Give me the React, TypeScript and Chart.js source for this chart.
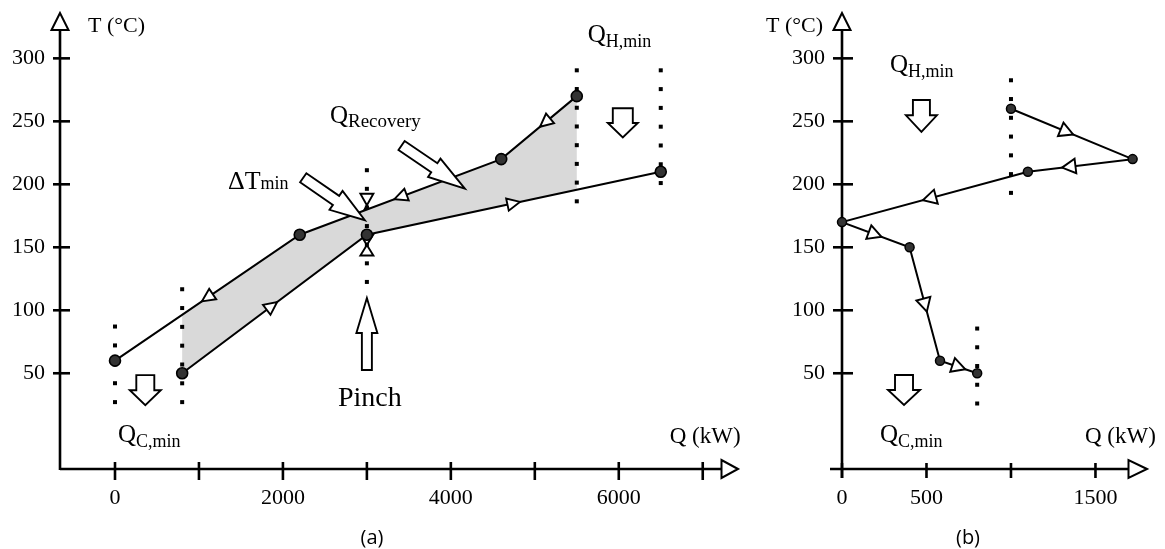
import React, { useEffect, useRef } from "react";
import { Chart, registerables } from "chart.js";

Chart.register(...registerables);

const SERIF = "'Liberation Serif', 'Times New Roman', serif";

// ---------- Panel (a): composite curves ----------
const hotQ = [0, 2200, 4600, 5500];
const hotT = [60, 160, 220, 270];
const coldQ = [800, 3000, 6500];
const coldT = [50, 160, 210];
const xTicksA = [0, 1000, 2000, 3000, 4000, 5000, 6000, 7000];
const xLabelsA = [0, 2000, 4000, 6000];
const yTicks = [50, 100, 150, 200, 250, 300];

// ---------- Panel (b): grand composite curve ----------
const gccQ = [1000, 1720, 1100, 0, 400, 580, 800];
const gccT = [260, 220, 210, 170, 150, 60, 50];
const xTicksB = [0, 500, 1000, 1500];
const xLabelsB = [0, 500, 1500];

// ---------- annotations (data coordinates) ----------
const dotsA = [
  { q: 0, tTop: 87.1, tBot: 27.1 },
  { q: 800, tTop: 116.7, tBot: 27.1 },
  { q: 3000, tTop: 211.2, tBot: 122.5 },
  { q: 5500, tTop: 290.5, tBot: 186.5 },
  { q: 6500, tTop: 290.5, tBot: 201 },
];
const dotsB = [
  { q: 1000, tTop: 282.6, tBot: 193.2 },
  { q: 800, tTop: 85.5, tBot: 26 },
];
const bowtiesA = [
  { q: 3000, t: 183.4, h: 11.5, w: 6.5 },
  { q: 3000, t: 151.8, h: 10.5, w: 6.5 },
];
const flowsA = [
  { s: "hot", seg: 0, f: 0.5, dir: -1 },
  { s: "hot", seg: 1, f: 0.5, dir: -1 },
  { s: "hot", seg: 2, f: 0.58, dir: -1 },
  { s: "cold", seg: 0, f: 0.486, dir: 1 },
  { s: "cold", seg: 1, f: 0.5, dir: 1 },
];
const flowsB = [
  { s: "gcc", seg: 0, f: 0.46, dir: 1 },
  { s: "gcc", seg: 1, f: 0.61, dir: 1 },
  { s: "gcc", seg: 2, f: 0.53, dir: 1 },
  { s: "gcc", seg: 3, f: 0.49, dir: 1 },
  { s: "gcc", seg: 4, f: 0.51, dir: 1 },
  { s: "gcc", seg: 5, f: 0.51, dir: 1 },
];
const arrowsA = [
  { q1: 361, t1: 48.5, q2: 361, t2: 24.6, shaft: 18, head: 31, headLen: 15 },
  { q1: 6048, t1: 260.4, q2: 6048, t2: 237.2, shaft: 20, head: 30, headLen: 14.5 },
  { q1: 3000, t1: 52.6, q2: 3000, t2: 109.7, shaft: 10, head: 21, headLen: 35 },
  { q1: 2242, t1: 205.2, q2: 2976, t2: 171.5, shaft: 11, head: 23, headLen: 35 },
  { q1: 3413, t1: 230.8, q2: 4167, t2: 196.6, shaft: 11, head: 22, headLen: 37 },
];
const arrowsB = [
  { q1: 470, t1: 266.9, q2: 470, t2: 241.7, shaft: 17, head: 31, headLen: 16.5 },
  { q1: 367, t1: 48.6, q2: 367, t2: 24.8, shaft: 18, head: 32, headLen: 15 },
];
const labelsA = [
  { q: -321, t: 321.3, text: "T (°C)", size: 22 },
  { q: 5631, t: 312.8, text: "Q", sub: "H,min", size: 25, subSize: 18, subDy: 5 },
  { q: 2560, t: 248.6, text: "Q", sub: "Recovery", size: 25, subSize: 19, subDy: 4 },
  { q: 1345, t: 196, text: "ΔT", sub: "min", size: 26, subSize: 18, subDy: 0 },
  { q: 2655, t: 23.8, text: "Pinch", size: 28 },
  { q: 36, t: -4.2, text: "Q", sub: "C,min", size: 25, subSize: 18, subDy: 5 },
  { q: 6607, t: -5.4, text: "Q (kW)", size: 23 },
];
const labelsB = [
  { q: -112, t: 321.3, text: "T (°C)", size: 22, align: "right" },
  { q: 284, t: 289.5, text: "Q", sub: "H,min", size: 25, subSize: 18, subDy: 5 },
  { q: 225, t: -4.2, text: "Q", sub: "C,min", size: 25, subSize: 18, subDy: 5 },
  { q: 1438, t: -5.4, text: "Q (kW)", size: 23 },
];

function interp(qs: number[], ts: number[], q: number) {
  for (let i = 0; i < qs.length - 1; i++) {
    if (q >= qs[i] && q <= qs[i + 1]) {
      return ts[i] + ((ts[i + 1] - ts[i]) * (q - qs[i])) / (qs[i + 1] - qs[i]);
    }
  }
  return ts[ts.length - 1];
}

function recoveryPolygon() {
  const lo = coldQ[0];
  const hi = hotQ[hotQ.length - 1];
  const pts: { x: number; y: number }[] = [];
  coldQ.forEach((q, i) => {
    if (q >= lo && q < hi) pts.push({ x: q, y: coldT[i] });
  });
  pts.push({ x: hi, y: interp(coldQ, coldT, hi) });
  pts.push({ x: hi, y: hotT[hotT.length - 1] });
  for (let i = hotQ.length - 1; i >= 0; i--) {
    if (hotQ[i] > lo && hotQ[i] < hi) pts.push({ x: hotQ[i], y: hotT[i] });
  }
  pts.push({ x: lo, y: interp(hotQ, hotT, lo) });
  return pts;
}

const series: Record<string, { q: number[]; t: number[] }> = {
  hot: { q: hotQ, t: hotT },
  cold: { q: coldQ, t: coldT },
  gcc: { q: gccQ, t: gccT },
};

function P(chart: any, q: number, t: number) {
  return { x: chart.scales.x.getPixelForValue(q), y: chart.scales.y.getPixelForValue(t) };
}

function drawTri(ctx: CanvasRenderingContext2D, cx: number, cy: number, ux: number, uy: number, L: number, W: number) {
  const nx = -uy, ny = ux;
  const ax = cx + (ux * L) / 2, ay = cy + (uy * L) / 2;
  const bx = cx - (ux * L) / 2, by = cy - (uy * L) / 2;
  ctx.beginPath();
  ctx.moveTo(ax, ay);
  ctx.lineTo(bx + (nx * W) / 2, by + (ny * W) / 2);
  ctx.lineTo(bx - (nx * W) / 2, by - (ny * W) / 2);
  ctx.closePath();
  ctx.fillStyle = "#fff";
  ctx.fill();
  ctx.lineWidth = 1.9;
  ctx.strokeStyle = "#000";
  ctx.lineJoin = "miter";
  ctx.stroke();
}

function drawBlockArrow(ctx: CanvasRenderingContext2D, p1: any, p2: any, shaft: number, head: number, headLen: number) {
  const dx = p2.x - p1.x, dy = p2.y - p1.y;
  const len = Math.hypot(dx, dy);
  const ux = dx / len, uy = dy / len;
  const nx = -uy, ny = ux;
  const jx = p2.x - ux * headLen, jy = p2.y - uy * headLen;
  const pts = [
    [p1.x + (nx * shaft) / 2, p1.y + (ny * shaft) / 2],
    [jx + (nx * shaft) / 2, jy + (ny * shaft) / 2],
    [jx + (nx * head) / 2, jy + (ny * head) / 2],
    [p2.x, p2.y],
    [jx - (nx * head) / 2, jy - (ny * head) / 2],
    [jx - (nx * shaft) / 2, jy - (ny * shaft) / 2],
    [p1.x - (nx * shaft) / 2, p1.y - (ny * shaft) / 2],
  ];
  ctx.beginPath();
  pts.forEach((p, i) => (i ? ctx.lineTo(p[0], p[1]) : ctx.moveTo(p[0], p[1])));
  ctx.closePath();
  ctx.fillStyle = "#fff";
  ctx.fill();
  ctx.lineWidth = 1.9;
  ctx.strokeStyle = "#000";
  ctx.lineJoin = "miter";
  ctx.stroke();
}

function makeDecor(ann: any) {
  const drawDots = (chart: any) => {
    const ctx = chart.ctx;
    ctx.fillStyle = "#000";
    ann.dots.forEach((d: any) => {
      const x = chart.scales.x.getPixelForValue(d.q);
      const y1 = chart.scales.y.getPixelForValue(d.tTop);
      const y2 = chart.scales.y.getPixelForValue(d.tBot);
      const n = Math.round((y2 - y1) / 19) + 1;
      const step = (y2 - y1) / (n - 1);
      for (let i = 0; i < n; i++) ctx.fillRect(x - 2, y1 + i * step - 2, 4, 4);
    });
  };
  return {
    id: "decor",
    beforeDatasetsDraw(chart: any) {
      const ctx = chart.ctx as CanvasRenderingContext2D;
      const a = chart.chartArea;
      const ys = chart.scales.y, xs = chart.scales.x;
      ctx.save();
      ctx.strokeStyle = "#000";
      ctx.lineWidth = 2.6;
      ctx.lineCap = "butt";
      // y axis
      ctx.beginPath();
      ctx.moveTo(a.left, a.bottom + ann.yBottomExt);
      ctx.lineTo(a.left, a.top + 17);
      ctx.stroke();
      // x axis
      ctx.beginPath();
      ctx.moveTo(a.left - ann.xLeftExt, a.bottom);
      ctx.lineTo(a.right - ann.xHead, a.bottom);
      ctx.stroke();
      // ticks
      yTicks.forEach((v) => {
        const y = ys.getPixelForValue(v);
        ctx.beginPath();
        ctx.moveTo(a.left - ann.yTickOut, y);
        ctx.lineTo(a.left + ann.yTickIn, y);
        ctx.stroke();
      });
      ann.xTicks.forEach((v: number) => {
        const x = xs.getPixelForValue(v);
        ctx.beginPath();
        ctx.moveTo(x, a.bottom - ann.xTickIn);
        ctx.lineTo(x, a.bottom + ann.xTickOut);
        ctx.stroke();
      });
      // arrow heads
      ctx.lineWidth = 2;
      ctx.fillStyle = "#fff";
      ctx.beginPath();
      ctx.moveTo(a.left, a.top);
      ctx.lineTo(a.left - 8.5, a.top + 17);
      ctx.lineTo(a.left + 8.5, a.top + 17);
      ctx.closePath();
      ctx.fill();
      ctx.stroke();
      ctx.beginPath();
      ctx.moveTo(a.right, a.bottom);
      ctx.lineTo(a.right - ann.xHead, a.bottom - 9);
      ctx.lineTo(a.right - ann.xHead, a.bottom + 9);
      ctx.closePath();
      ctx.fill();
      ctx.stroke();
      // bowties
      ann.bowties.forEach((b: any) => {
        const c = P(chart, b.q, b.t);
        ctx.beginPath();
        ctx.moveTo(c.x, c.y);
        ctx.lineTo(c.x - b.w, c.y - b.h);
        ctx.lineTo(c.x + b.w, c.y - b.h);
        ctx.closePath();
        ctx.moveTo(c.x, c.y);
        ctx.lineTo(c.x - b.w, c.y + b.h);
        ctx.lineTo(c.x + b.w, c.y + b.h);
        ctx.closePath();
        ctx.fillStyle = "#fff";
        ctx.fill();
        ctx.lineWidth = 1.9;
        ctx.stroke();
      });
      if (ann.dotsAfterIndex === null) drawDots(chart);
      ctx.restore();
    },
    afterDatasetDraw(chart: any, args: any) {
      if (ann.dotsAfterIndex !== null && args.index === ann.dotsAfterIndex) {
        chart.ctx.save();
        drawDots(chart);
        chart.ctx.restore();
      }
    },
    afterDatasetsDraw(chart: any) {
      const ctx = chart.ctx as CanvasRenderingContext2D;
      ctx.save();
      ann.flows.forEach((fl: any) => {
        const s = series[fl.s];
        const p1 = P(chart, s.q[fl.seg], s.t[fl.seg]);
        const p2 = P(chart, s.q[fl.seg + 1], s.t[fl.seg + 1]);
        const cx = p1.x + (p2.x - p1.x) * fl.f;
        const cy = p1.y + (p2.y - p1.y) * fl.f;
        const len = Math.hypot(p2.x - p1.x, p2.y - p1.y);
        const ux = ((p2.x - p1.x) / len) * fl.dir;
        const uy = ((p2.y - p1.y) / len) * fl.dir;
        drawTri(ctx, cx, cy, ux, uy, ann.triL, ann.triW);
      });
      ann.arrows.forEach((ar: any) => {
        drawBlockArrow(ctx, P(chart, ar.q1, ar.t1), P(chart, ar.q2, ar.t2), ar.shaft, ar.head, ar.headLen);
      });
      ctx.fillStyle = "#000";
      ctx.textBaseline = "alphabetic";
      ctx.textAlign = "left";
      ann.labels.forEach((lb: any) => {
        const p = P(chart, lb.q, lb.t);
        ctx.font = `${lb.size}px ${SERIF}`;
        const mw = ctx.measureText(lb.text).width;
        let sw = 0;
        if (lb.sub) {
          ctx.font = `${lb.subSize}px ${SERIF}`;
          sw = ctx.measureText(lb.sub).width;
        }
        const x0 = lb.align === "right" ? p.x - mw - sw : p.x;
        ctx.font = `${lb.size}px ${SERIF}`;
        ctx.fillText(lb.text, x0, p.y);
        if (lb.sub) {
          ctx.font = `${lb.subSize}px ${SERIF}`;
          ctx.fillText(lb.sub, x0 + mw, p.y + lb.subDy);
        }
      });
      ctx.restore();
    },
  };
}

function scalesFor(xmin: number, xmax: number, xt: number[], xl: number[], yPad: number) {
  const tickFont = { family: SERIF, size: 22 };
  return {
    x: {
      type: "linear" as const,
      min: xmin,
      max: xmax,
      bounds: "data" as const,
      afterBuildTicks: (s: any) => {
        s.ticks = xt.map((v) => ({ value: v }));
      },
      afterFit: (s: any) => {
        s.height = 80;
        s.paddingLeft = 0;
        s.paddingRight = 0;
        s.paddingTop = 0;
        s.paddingBottom = 0;
      },
      grid: { display: false, drawTicks: false },
      border: { display: false },
      ticks: {
        padding: 16,
        color: "#000",
        font: tickFont,
        autoSkip: false,
        maxRotation: 0,
        minRotation: 0,
        callback: (v: any) => (xl.includes(Number(v)) ? String(v) : ""),
      },
    },
    y: {
      type: "linear" as const,
      min: -26,
      max: 336,
      bounds: "data" as const,
      afterBuildTicks: (s: any) => {
        s.ticks = yTicks.map((v) => ({ value: v }));
      },
      afterFit: (s: any) => {
        s.width = 60;
        s.paddingLeft = 0;
        s.paddingRight = 0;
        s.paddingTop = 0;
        s.paddingBottom = 0;
      },
      grid: { display: false, drawTicks: false },
      border: { display: false },
      ticks: { padding: yPad, color: "#000", font: tickFont, autoSkip: false },
    },
  };
}

const pointStyleA = {
  pointRadius: 5.5,
  pointBackgroundColor: "#333",
  pointBorderColor: "#000",
  pointBorderWidth: 1.6,
};

export default function App() {
  const refA = useRef<HTMLCanvasElement>(null);
  const refB = useRef<HTMLCanvasElement>(null);

  useEffect(() => {
    const chartA = new Chart(refA.current as HTMLCanvasElement, {
      type: "line",
      data: {
        datasets: [
          {
            label: "Hot composite curve",
            data: hotQ.map((q, i) => ({ x: q, y: hotT[i] })),
            borderColor: "#000",
            borderWidth: 2,
            fill: false,
            tension: 0,
            clip: false as any,
            ...pointStyleA,
          },
          {
            label: "Cold composite curve",
            data: coldQ.map((q, i) => ({ x: q, y: coldT[i] })),
            borderColor: "#000",
            borderWidth: 2,
            fill: false,
            tension: 0,
            clip: false as any,
            ...pointStyleA,
          },
          {
            label: "Heat recovery",
            data: recoveryPolygon(),
            borderColor: "rgba(0,0,0,0)",
            borderWidth: 0,
            backgroundColor: "#d9d9d9",
            fill: "shape" as any,
            pointRadius: 0,
            tension: 0,
            clip: false as any,
          },
        ],
      },
      options: {
        responsive: false,
        animation: false,
        events: [],
        layout: { padding: { left: 0, top: 13, right: 1165 - 738, bottom: 0 } },
        plugins: { legend: { display: false }, tooltip: { enabled: false } },
        scales: scalesFor(-655, 7420, xTicksA, xLabelsA, 15) as any,
      },
      plugins: [
        makeDecor({
          xLeftExt: 0,
          yBottomExt: 1,
          yTickOut: 7,
          yTickIn: 10,
          xTickIn: 7,
          xTickOut: 11,
          xHead: 16.5,
          xTicks: xTicksA,
          dots: dotsA,
          dotsAfterIndex: 2,
          bowties: bowtiesA,
          flows: flowsA,
          triL: 13,
          triW: 12.5,
          arrows: arrowsA,
          labels: labelsA,
        }),
      ],
    });

    const chartB = new Chart(refB.current as HTMLCanvasElement, {
      type: "line",
      data: {
        datasets: [
          {
            label: "Grand composite curve",
            data: gccQ.map((q, i) => ({ x: q, y: gccT[i] })),
            borderColor: "#000",
            borderWidth: 2,
            fill: false,
            tension: 0,
            clip: false as any,
            pointRadius: 4.5,
            pointBackgroundColor: "#333",
            pointBorderColor: "#000",
            pointBorderWidth: 1.5,
          },
        ],
      },
      options: {
        responsive: false,
        animation: false,
        events: [],
        layout: { padding: { left: 842 - 60, top: 13, right: 1165 - 1147, bottom: 0 } },
        plugins: { legend: { display: false }, tooltip: { enabled: false } },
        scales: scalesFor(0, 1805, xTicksB, xLabelsB, 17) as any,
      },
      plugins: [
        makeDecor({
          xLeftExt: 12,
          yBottomExt: 9,
          yTickOut: 9,
          yTickIn: 11,
          xTickIn: 6,
          xTickOut: 9,
          xHead: 18.5,
          xTicks: xTicksB,
          dots: dotsB,
          dotsAfterIndex: null,
          bowties: [],
          flows: flowsB,
          triL: 13.5,
          triW: 14.5,
          arrows: arrowsB,
          labels: labelsB,
        }),
      ],
    });

    return () => {
      chartA.destroy();
      chartB.destroy();
    };
  }, []);

  const canvasStyle: React.CSSProperties = { position: "absolute", left: 0, top: 0, width: 1165, height: 549 };
  const capStyle: React.CSSProperties = {
    position: "absolute",
    top: 537,
    transform: "translate(-50%, -50%)",
    fontFamily: "'Open Sans', 'Liberation Sans', sans-serif",
    fontSize: 20,
    lineHeight: 1,
    color: "#000",
    whiteSpace: "nowrap",
  };

  return (
    <div style={{ position: "absolute", left: 0, top: 0, width: 1165, height: 549, background: "#fff", overflow: "hidden" }}>
      <canvas ref={refA} width={1165} height={549} style={canvasStyle} />
      <canvas ref={refB} width={1165} height={549} style={canvasStyle} />
      <div style={{ ...capStyle, left: 372 }}>(a)</div>
      <div style={{ ...capStyle, left: 968 }}>(b)</div>
    </div>
  );
}
